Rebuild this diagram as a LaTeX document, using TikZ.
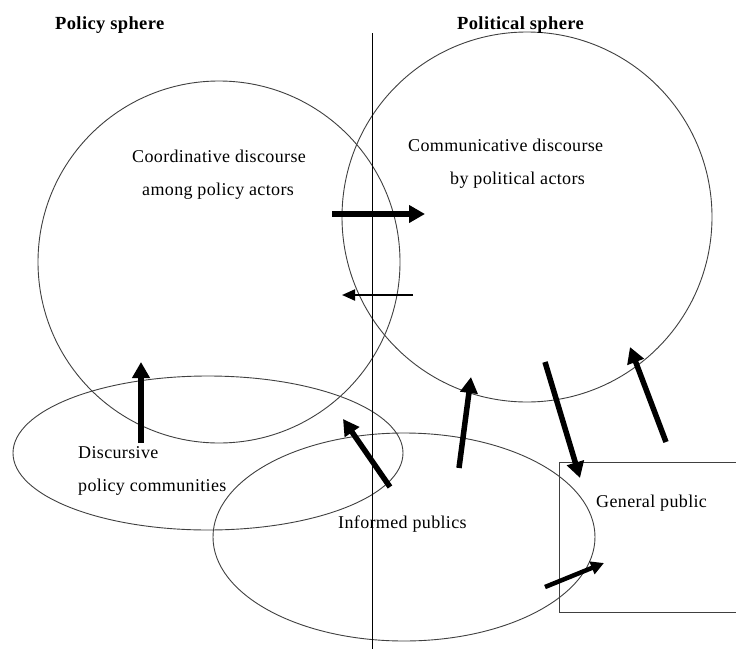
\documentclass[tikz,border=0pt]{standalone}
\usepackage{fontspec}
\setmainfont{Liberation Serif}[LetterSpace=2]
\usetikzlibrary{arrows.meta}
\tikzset{
  txt/.style={anchor=base west,inner sep=0pt,font=\fontsize{18}{20}\selectfont},
  head/.style={anchor=base west,inner sep=0pt,font=\fontsize{18.5}{20}\selectfont\bfseries},
  shapeline/.style={draw=black!75,line width=0.9pt},
  bigarrow/.style={line width=5.5pt,-{Triangle[length=16pt,width=17pt]}},
  midarrow/.style={line width=4.5pt,-{Triangle[length=13pt,width=13pt]}},
  thinarrow/.style={line width=2pt,-{Triangle[length=13pt,width=11pt]}}
}
\begin{document}
\begin{tikzpicture}[x=1pt,y=-1pt]
\useasboundingbox (0,0) rectangle (736,648);
\clip (0,0) rectangle (736,648);
\fill[white] (0,0) rectangle (736,648);
% spheres
\draw[shapeline] (219,262) circle[radius=181];
\draw[shapeline] (527,217) circle[radius=185];
\draw[shapeline] (208,453) ellipse[x radius=195,y radius=77];
\draw[shapeline] (404,537) ellipse[x radius=191,y radius=104];
\draw[shapeline] (559,462) rectangle (760,612);
% divider
\coordinate (dtop) at (372,33);
\coordinate (dbot) at (372,650);
\draw[line width=1pt] (dtop) -- (dbot);
% texts
\node[head] (policy) at (55,29) {Policy sphere};
\node[head] (political) at (457,29) {Political sphere};
\node[txt] (coord1) at (132,162) {Coordinative discourse};
\node[txt] (coord2) at (142,195) {among policy actors};
\node[txt] (comm1) at (408,151) {Communicative discourse};
\node[txt] (comm2) at (450,184) {by political actors};
\node[txt] (disc1) at (78,458) {Discursive};
\node[txt] (disc2) at (78,491) {policy communities};
\node[txt] (inf) at (338,528) {Informed publics};
\node[txt] (gen) at (596,507) {General public};
% arrow end points
\coordinate (a1s) at (332,214); \coordinate (a1e) at (425,214);
\coordinate (a2s) at (413,295); \coordinate (a2e) at (342,295);
\coordinate (a3s) at (141,443); \coordinate (a3e) at (141,362);
\coordinate (a4s) at (390,487); \coordinate (a4e) at (343,419);
\coordinate (a5s) at (459,468); \coordinate (a5e) at (471,377);
\coordinate (a6s) at (545,362); \coordinate (a6e) at (580,478);
\coordinate (a7s) at (666,442); \coordinate (a7e) at (630,347);
\coordinate (a8s) at (545,587); \coordinate (a8e) at (604,563);
% arrows
\draw[bigarrow] (a1s) -- (a1e);
\draw[thinarrow] (a2s) -- (a2e);
\draw[bigarrow] (a3s) -- (a3e);
\draw[bigarrow] (a4s) -- (a4e);
\draw[bigarrow] (a5s) -- (a5e);
\draw[bigarrow] (a6s) -- (a6e);
\draw[bigarrow] (a7s) -- (a7e);
\draw[midarrow] (a8s) -- (a8e);
\end{tikzpicture}
\end{document}
